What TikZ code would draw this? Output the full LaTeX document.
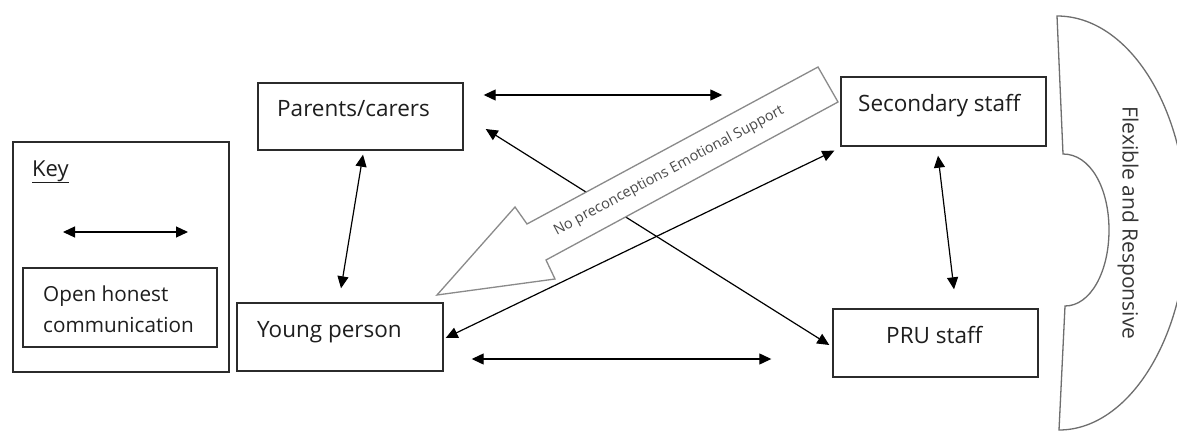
\documentclass[tikz,border=0pt]{standalone}
\usepackage{fontspec}
\setmainfont{Open Sans}
\usetikzlibrary{arrows.meta,calc}
\definecolor{boxline}{HTML}{2B2B2B}
\definecolor{txt}{HTML}{1E1E1E}
\definecolor{bigarrow}{HTML}{8A8A8A}
\definecolor{shield}{HTML}{6E6E6E}
\tikzset{
  box/.style={draw=boxline, line width=1.4pt, rectangle, inner sep=0pt},
  boxtext/.style={text=txt, font=\fontsize{22.5}{26}\selectfont, inner sep=0pt},
  link/.style={draw=black, line width=1.2pt,
    {Triangle[length=12pt,width=11pt]}-{Triangle[length=12pt,width=11pt]}},
}
\begin{document}
\begin{tikzpicture}[x=1pt,y=-1pt]
\useasboundingbox (0,0) rectangle (1177,441);
\clip (0,0) rectangle (1177,441);
\fill[white] (0,0) rectangle (1177,441);

% key
\node[box, minimum width=216pt, minimum height=230pt] (keybox) at (121,257) {};
\node[boxtext, anchor=base west, font=\fontsize{22}{26}\selectfont] (keytitle) at (32,176) {\underline{Key}};
\coordinate (keyL) at (63,232);
\coordinate (keyR) at (188,232);
\draw[link] (keyL) -- (keyR);
\node[box, minimum width=194pt, minimum height=79pt] (keyinner) at (120,307.5) {};
\node[boxtext, anchor=base west, align=left, font=\fontsize{20.7}{31}\selectfont] (keytext) at (43,332)
  {Open honest\\communication};

% participant boxes
\node[box, minimum width=205pt, minimum height=67pt] (parents) at (360.5,116.5) {};
\node[boxtext, anchor=base west] (parentstext) at (277,117) {Parents/carers};
\node[box, minimum width=205pt, minimum height=69pt] (secondary) at (943.5,111.5) {};
\node[boxtext, anchor=base west] (secondarytext) at (858,112) {Secondary staff};
\node[box, minimum width=206pt, minimum height=68pt] (young) at (340,337) {};
\node[boxtext, anchor=base west] (youngtext) at (257,337) {Young person};
\node[box, minimum width=205pt, minimum height=68pt] (pru) at (935.5,343) {};
\node[boxtext, anchor=base west] (prutext) at (886,343) {PRU staff};

% communication links
\draw[link] ($(parents.east)+(20,-21.5)$) -- ($(secondary.west)+(-118,-16.5)$);
\draw[link] ($(parents.south)+(2.5,4)$) -- ($(young.north)+(1,-14)$);
\draw[link] ($(secondary.south west)+(-6,4)$) -- ($(young.east)+(2,1)$);
\draw[link] ($(parents.east)+(22,12.5)$) -- ($(pru.west)+(-3,2)$);
\draw[link] ($(secondary.south)+(-5.5,9)$) -- ($(pru.north)+(18.5,-19)$);
\draw[link] ($(young.east)+(28,22)$) -- ($(pru.west)+(-61,16)$);

% block arrow from secondary staff towards the young person
\draw[draw=bigarrow, fill=white, line width=1.3pt, line join=miter]
  (818,67) -- (838,102) -- (546,260) -- (555,279) -- (437,295) -- (515,207) -- (527,224) -- cycle;
\node[text=txt!80, font=\fontsize{14.5}{16}\selectfont, rotate=28.1, inner sep=0pt] (support) at (669,171)
  {No preconceptions Emotional Support};

% flexible and responsive band
\draw[draw=shield, line width=1.3pt]
  (1057,16) .. controls (1128.8,16) and (1187,108.7) .. (1187,223)
  .. controls (1187,337.3) and (1128.8,430) .. (1059,430)
  -- (1065,306)
  .. controls (1090.4,306) and (1109,272) .. (1109,230)
  .. controls (1109,188) and (1090.4,154) .. (1063,154)
  -- cycle;
\node[text=txt!90, font=\fontsize{21}{24}\selectfont, rotate=-90, inner sep=0pt] (flex) at (1128,223)
  {Flexible and Responsive};
\end{tikzpicture}
\end{document}
